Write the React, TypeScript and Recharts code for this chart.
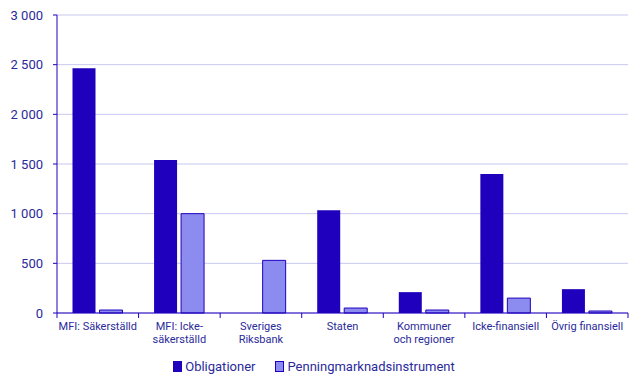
import { BarChart, Bar, XAxis, YAxis, CartesianGrid, Legend } from 'recharts';

const categories = [
  'MFI: Säkerställd',
  'MFI: Icke-\nsäkerställd',
  'Sveriges\nRiksbank',
  'Staten',
  'Kommuner\noch regioner',
  'Icke-finansiell',
  'Övrig finansiell',
];
const obligationer = [2465, 1540, 0, 1035, 210, 1400, 240];
const penningmarknad = [30, 1000, 530, 50, 30, 150, 20];
const yTicks = [0, 500, 1000, 1500, 2000, 2500, 3000];

const data = categories.map((name, i) => ({
  name,
  obligationer: obligationer[i],
  penningmarknad: penningmarknad[i],
}));

const TEXT = '#2a2a9a';
const AXIS = '#1f00bd';

const fmt = (v: number) => String(v).replace(/\B(?=(\d{3})+(?!\d))/g, ' ');

function CategoryTick(props: any) {
  const { x, y, payload, index } = props;
  const lines = String(payload.value).split('\n');
  const half = payload.offset || 0;
  return (
    <g>
      <line x1={x - half} y1={y - 8} x2={x - half} y2={y - 3} stroke={AXIS} />
      {index === categories.length - 1 && (
        <line x1={x + half} y1={y - 8} x2={x + half} y2={y - 3} stroke={AXIS} />
      )}
      <text x={x} y={y + 9} textAnchor="middle" fill={TEXT} fontSize={11}>
        {lines.map((l, i) => (
          <tspan key={i} x={x} dy={i === 0 ? 0 : 13}>
            {l}
          </tspan>
        ))}
      </text>
    </g>
  );
}

function LegendContent() {
  const items = [
    { label: 'Obligationer', fill: '#1f00bd' },
    { label: 'Penningmarknadsinstrument', fill: '#8c8cf0' },
  ];
  return (
    <div style={{ display: 'flex', justifyContent: 'center', gap: 20, color: TEXT, fontSize: 13 }}>
      {items.map((it) => (
        <span key={it.label} style={{ display: 'flex', alignItems: 'center', gap: 3 }}>
          <span
            style={{
              width: 7,
              height: 9,
              background: it.fill,
              border: '1px solid #1f00bd',
              display: 'inline-block',
            }}
          />
          {it.label}
        </span>
      ))}
    </div>
  );
}

export default function App() {
  return (
    <div style={{ fontFamily: 'Roboto, sans-serif' }}>
      <style>{'body{margin:0}'}</style>
      <BarChart
        width={643}
        height={386}
        data={data}
        margin={{ top: 15, right: 15, left: 0, bottom: 12 }}
        barCategoryGap="19%"
        barGap={4}
      >
        <CartesianGrid vertical={false} stroke="#c8c8f0" />
        <XAxis
          dataKey="name"
          interval={0}
          height={46}
          tickLine={false}
          axisLine={{ stroke: AXIS }}
          tick={<CategoryTick />}
        />
        <YAxis
          width={57}
          domain={[0, 3000]}
          ticks={yTicks}
          tickFormatter={fmt}
          axisLine={{ stroke: AXIS }}
          tickLine={{ stroke: AXIS }}
          tickSize={4}
          tickMargin={10}
          tick={{ fill: TEXT, fontSize: 13 }}
        />
        <Legend content={<LegendContent />} />
        <Bar dataKey="obligationer" name="Obligationer" fill="#1f00bd" isAnimationActive={false} />
        <Bar
          dataKey="penningmarknad"
          name="Penningmarknadsinstrument"
          fill="#8c8cf0"
          stroke="#1f00bd"
          strokeWidth={1}
          isAnimationActive={false}
        />
      </BarChart>
    </div>
  );
}
